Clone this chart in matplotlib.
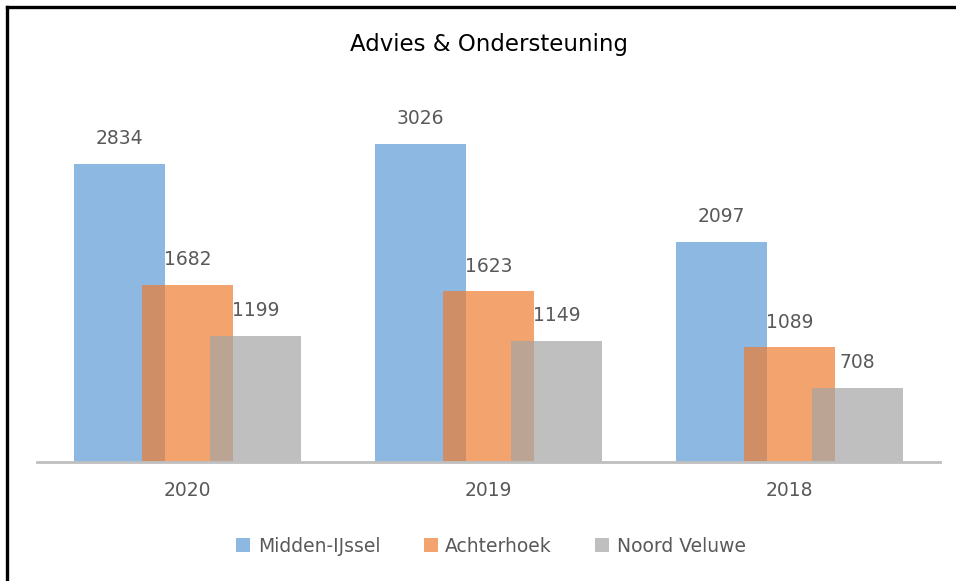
import numpy as np
import matplotlib.pyplot as plt
from matplotlib.lines import Line2D

# data
years = ["2020", "2019", "2018"]
regions = ["Midden-IJssel", "Achterhoek", "Noord Veluwe"]
midden_ijssel = [2834, 3026, 2097]
achterhoek = [1682, 1623, 1089]
noord_veluwe = [1199, 1149, 708]

colors = ["#5B9BD5", "#ED7D31", "#A5A5A5"]
txt_color = "#595959"

fig = plt.figure(figsize=(9.56, 5.81), dpi=100)
ax = fig.add_axes([37 / 956, (581 - 462) / 581, 903 / 956, 368 / 581])

x = np.arange(len(years))
width = 0.302
offset = 0.226
series = [midden_ijssel, achterhoek, noord_veluwe]

for i, (vals, name, c) in enumerate(zip(series, regions, colors)):
    pos = x + (i - 1) * offset
    ax.bar(pos, vals, width=width, color=c, alpha=0.7, label=name,
           zorder=2 + i, linewidth=0)
    for xp, v in zip(pos, vals):
        ax.text(xp, v + 150, str(v), ha="center", va="bottom",
                fontsize=13.5, color=txt_color, zorder=10)

ax.set_xlim(-0.5, 2.5)
ax.set_ylim(0, 3500)
ax.set_xticks(x)
ax.set_xticklabels(years, fontsize=13.5, color=txt_color)
ax.tick_params(axis="x", length=0, pad=14)
ax.set_yticks([])
for s in ["top", "right", "left"]:
    ax.spines[s].set_visible(False)
ax.spines["bottom"].set_color("#BFBFBF")
ax.spines["bottom"].set_linewidth(2)
ax.spines["bottom"].set_zorder(20)

fig.text(489 / 956, 1 - 45 / 581, "Advies & Ondersteuning", ha="center",
         va="center", fontsize=16.5, color="black")

leg = fig.legend(loc="center", bbox_to_anchor=(491 / 956, 1 - 546 / 581),
                 ncol=3, frameon=False, fontsize=13.5, handlelength=0.75,
                 handleheight=0.75, handletextpad=0.4, columnspacing=2.3)
for t in leg.get_texts():
    t.set_color(txt_color)

# frame lines on left and top like the screenshot
fig.add_artist(Line2D([7 / 956, 7 / 956], [0, 1 - 7 / 581], color="black",
                      lw=2.4, transform=fig.transFigure))
fig.add_artist(Line2D([7 / 956, 1], [1 - 7 / 581, 1 - 7 / 581], color="black",
                      lw=2.4, transform=fig.transFigure))

fig.savefig("out.png", dpi=100)
